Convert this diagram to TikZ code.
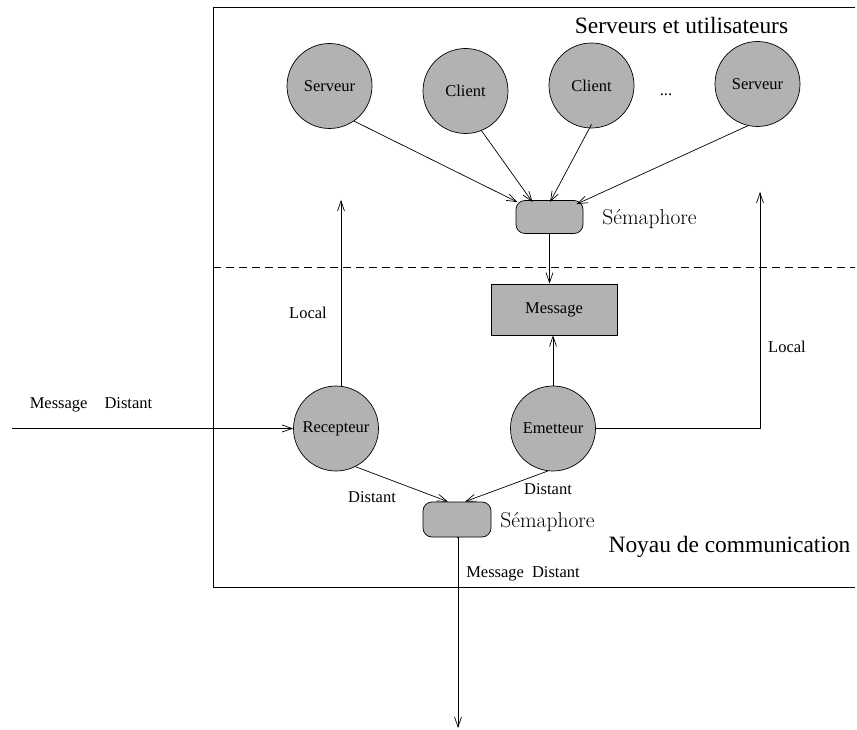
\documentclass[tikz,border=0pt]{standalone}
\usepackage{fontspec}
\usetikzlibrary{arrows.meta}
\newfontfamily\labelfont{Liberation Serif}
\definecolor{gris}{RGB}{178,178,178}

\tikzset{every picture/.style={line width=0.7pt}}
\tikzset{
  cercle/.style={circle, draw, fill=gris, minimum size=85pt, inner sep=0pt, font=\labelfont\fontsize{16.5}{18}\selectfont},
  semaphore/.style={rectangle, rounded corners=9pt, draw, fill=gris, minimum width=67pt, minimum height=33pt},
  boite/.style={rectangle, draw, fill=gris, minimum width=126pt, minimum height=51pt, font=\labelfont\fontsize{16.5}{18}\selectfont},
  etiquette/.style={font=\labelfont\fontsize{16.5}{18}\selectfont, inner sep=0pt},
  titre/.style={font=\labelfont\fontsize{23.4}{26}\selectfont, inner sep=0pt},
  semtexte/.style={font=\fontsize{21.5}{24}\selectfont\addfontfeatures{LetterSpace=6.0}, inner sep=0pt, anchor=west},
  fleche/.style={-{Straight Barb[length=10pt,width=7pt]}}
}

\begin{document}
\begin{tikzpicture}[x=1pt,y=1pt,yscale=-1,xscale=1]
\useasboundingbox (0,0) rectangle (857,730);

%Frame and separation
\draw (855,7) -- (213,7) -- (213,587) -- (855,587) ;
\draw [dash pattern=on 8pt off 5pt] (213,267) -- (855,267) ;

% Text Node
\node [titre] (serveursUtil) at (681.5,25) {Serveurs et utilisateurs};
\node [titre] (noyau) at (729.5,547) {Noyau de communication};

% Circles
\node [cercle] (serveurA) at (329.5,86) {Serveur};
\node [cercle] (clientA) at (465.5,91) {\raisebox{-4pt}{Client}};
\node [cercle] (clientB) at (591.5,85.5) {Client};
\node [etiquette] (points) at (666,95) {...};
\node [cercle] (serveurB) at (757.5,84) {Serveur};
\node [cercle] (recepteur) at (336,428.5) {Recepteur};
\node [cercle] (emetteur) at (553,428.5) {Emetteur};

% Semaphores and message
\node [semaphore] (semHaut) at (549.5,217) {};
\node [semtexte] (semHautTxt) at (602,219) {Sémaphore};
\node [boite] (message) at (554,309.5) {Message};
\node [semaphore, minimum width=68pt, minimum height=35pt] (semBas) at (457,519.5) {};
\node [semtexte] (semBasTxt) at (500,522) {Sémaphore};

% Free ends
\coordinate (entree) at (12,428.5);
\coordinate (localG) at (341,200);
\coordinate (localD) at (760,192);
\coordinate (sortie) at (458,728);

%Straight Lines
\draw [fleche] (serveurA.-55) -- ([xshift=-32pt,yshift=2pt]semHaut.north) ;
\draw [fleche] (clientA.-68) -- ([xshift=-17pt,yshift=2pt]semHaut.north) ;
\draw [fleche] ([yshift=-4pt]clientB.south) -- ([xshift=0.5pt,yshift=2pt]semHaut.north) ;
\draw [fleche] (serveurB.-103) -- ([xshift=27pt,yshift=4pt]semHaut.north) ;
\draw [fleche] (semHaut.south) -- (semHaut.south |- message.north) ;
\draw [fleche] (emetteur.north) -- (emetteur.north |- message.south) ;
\draw [fleche] (recepteur.north -| localG) -- (localG) ;
\draw [fleche] (emetteur.east) -- (emetteur.east -| localD) -- (localD) ;
\draw [fleche] (entree) -- (recepteur.west) ;
\draw [fleche] (recepteur.-63) -- ([xshift=-9pt]semBas.north) ;
\draw [fleche] (emetteur.-97) -- ([xshift=8pt]semBas.north) ;
\draw [fleche] (semBas.south) -- (semBas.south -| sortie) -- (sortie) ;

% Text Node
\node [etiquette] (localGTxt) at (308,313) {Local};
\node [etiquette] (localDTxt) at (787,347) {Local};
\node [etiquette] (distantG) at (372,497) {Distant};
\node [etiquette] (distantD) at (548,489) {Distant};
\node [etiquette] (entreeTxt) at (91,405) {Message\hspace{17pt}Distant};
\node [etiquette] (sortieTxt) at (523,574) {Message\hspace{8pt}Distant};

\end{tikzpicture}
\end{document}
